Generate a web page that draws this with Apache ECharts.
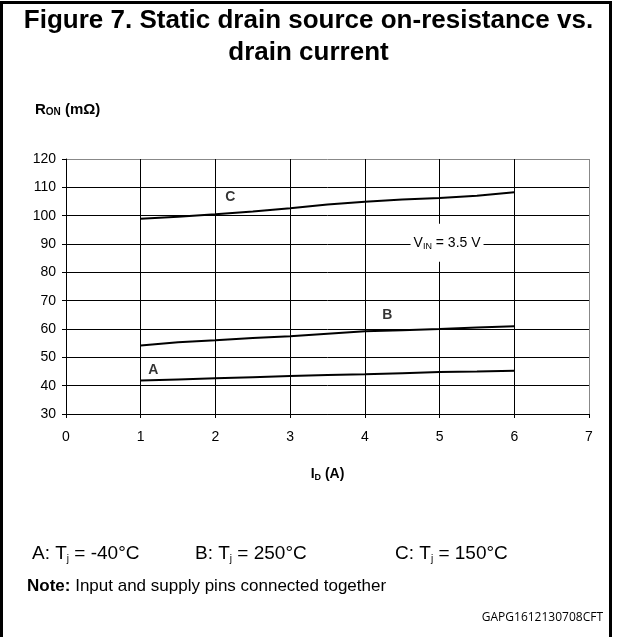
<!DOCTYPE html>
<html>
<head>
<meta charset="utf-8">
<script src="https://cdn.jsdelivr.net/npm/echarts@6/dist/echarts.min.js"></script>
<style>
  html, body { margin: 0; padding: 0; background: #fff; }
  #chart { width: 617px; height: 637px; }
</style>
</head>
<body>
<div id="chart"></div>
<script>
// drain current I_D (A) sample points
var currentA = [1, 1.5, 2, 2.5, 3, 3.5, 4, 4.5, 5, 5.5, 6];
// R_ON (mOhm) per curve
var curveA = [41.8, 42.2, 42.6, 43.0, 43.4, 43.8, 44.0, 44.4, 44.8, 45.0, 45.3];
var curveB = [54.2, 55.3, 56.0, 56.8, 57.4, 58.3, 59.2, 59.6, 60.0, 60.5, 61.0];
var curveC = [98.9, 99.6, 100.5, 101.5, 102.6, 103.9, 104.9, 105.7, 106.2, 107.0, 108.3];

// curve tags, placed in data coordinates
var curveTags = [[1.17, 45.5, 'A'], [4.3, 65, 'B'], [2.2, 106.5, 'C']];
var vinNote = [5.1, 90.4];

var xTicks = [0, 1, 2, 3, 4, 5, 6, 7];
var yTicks = [30, 40, 50, 60, 70, 80, 90, 100, 110, 120];

var FONT = '"Liberation Sans", Arial, sans-serif';

function pairs(xs, ys) {
    var out = [];
    for (var i = 0; i < xs.length; i++) {
        out.push([xs[i], ys[i]]);
    }
    return out;
}

function curve(name, ys) {
    return {
        name: name,
        type: 'line',
        data: pairs(currentA, ys),
        symbol: 'none',
        lineStyle: { color: '#000', width: 2 },
        z: 5
    };
}

function tempText(left, txt) {
    // "X: T_j = ..." with subscript j
    return {
        type: 'text',
        left: left,
        top: 544,
        style: {
            text: '{t|' + txt[0] + ': T}{s|j}{t| = ' + txt[1] + '}',
            rich: {
                t: { fontFamily: FONT, fontSize: 19, fill: '#000' },
                s: { fontFamily: FONT, fontSize: 10, fill: '#000', verticalAlign: 'bottom', padding: [12, 0, 0, 0] }
            }
        }
    };
}

// last split line is the plot frame, drawn gray
var ySplitColors = yTicks.map(function(v, i) { return i === yTicks.length - 1 ? '#888' : '#000'; });
var xSplitColors = xTicks.map(function(v, i) { return i === xTicks.length - 1 ? '#888' : '#000'; });

var myChart = echarts.init(document.getElementById('chart'));

var option = {
    animation: false,
    backgroundColor: '#fff',
    textStyle: { fontFamily: FONT },
    grid: { left: 66, right: 28, top: 159, bottom: 223 },
    xAxis: {
        type: 'value',
        min: 0,
        max: 7,
        interval: 1,
        name: '{b|I}{sub|D}{b| (A)}',
        nameLocation: 'middle',
        nameGap: 52,
        nameTextStyle: {
            rich: {
                b: { fontFamily: FONT, fontSize: 14, fontWeight: 'bold', color: '#000' },
                sub: { fontFamily: FONT, fontSize: 9, fontWeight: 'bold', color: '#000', verticalAlign: 'bottom', padding: [7, 0, 0, 0] }
            }
        },
        axisLine: { show: true, onZero: false, lineStyle: { color: '#000', width: 1 } },
        axisTick: { show: true, length: 4, lineStyle: { color: '#000' } },
        axisLabel: { margin: 16, fontSize: 14, color: '#000', fontFamily: FONT },
        splitLine: { show: true, lineStyle: { color: xSplitColors, width: 1 } }
    },
    yAxis: {
        type: 'value',
        min: 30,
        max: 120,
        interval: 10,
        axisLine: { show: true, onZero: false, lineStyle: { color: '#000', width: 1 } },
        axisTick: { show: true, length: 4, lineStyle: { color: '#000' } },
        axisLabel: { margin: 10, fontSize: 14, color: '#000', fontFamily: FONT },
        splitLine: { show: true, lineStyle: { color: ySplitColors, width: 1 } }
    },
    series: [
        curve('A', curveA),
        curve('B', curveB),
        curve('C', curveC),
        {
            name: 'tags',
            type: 'scatter',
            symbolSize: 0,
            data: curveTags,
            z: 6,
            label: {
                show: true,
                position: 'inside',
                formatter: function(p) { return p.data[2]; },
                fontFamily: FONT,
                fontSize: 14,
                fontWeight: 'bold',
                color: '#000'
            }
        }
    ],
    graphic: [
        {
            type: 'rect',
            shape: { x: 1.5, y: 2.5, width: 609, height: 640 },
            style: { fill: null, stroke: '#000', lineWidth: 3 },
            silent: true
        },
        {
            type: 'text',
            left: 'center',
            top: 5,
            style: {
                text: 'Figure 7. Static drain source on-resistance vs.\ndrain current',
                font: 'bold 26px ' + FONT,
                fill: '#000',
                textAlign: 'center',
                lineHeight: 32
            }
        },
        {
            type: 'text',
            left: 35,
            top: 102,
            style: {
                text: '{b|R}{s|ON}{b| (mΩ)}',
                rich: {
                    b: { fontFamily: FONT, fontSize: 15, fontWeight: 'bold', fill: '#000' },
                    s: { fontFamily: FONT, fontSize: 10, fontWeight: 'bold', fill: '#000', verticalAlign: 'bottom', padding: [6, 0, 0, 0] }
                }
            }
        },
        tempText(32, ['A', '-40°C']),
        tempText(195, ['B', '250°C']),
        tempText(395, ['C', '150°C']),
        {
            type: 'text',
            left: 27,
            top: 578,
            style: {
                text: '{b|Note:}{t| Input and supply pins connected together}',
                rich: {
                    b: { fontFamily: FONT, fontSize: 17, fontWeight: 'bold', fill: '#000' },
                    t: { fontFamily: FONT, fontSize: 17, fill: '#000' }
                }
            }
        },
        {
            type: 'text',
            right: 14,
            top: 612,
            style: {
                text: 'GAPG1612130708CFT',
                font: '12px "Open Sans", "DejaVu Sans", sans-serif',
                fill: '#000'
            }
        }
    ]
};

myChart.setOption(option);

// V_IN annotation: white box on the grid, centred on a data point
var vinPx = myChart.convertToPixel({ gridIndex: 0 }, vinNote);
myChart.setOption({
    graphic: [{
        id: 'vin',
        type: 'text',
        x: vinPx[0],
        y: vinPx[1],
        z: 100,
        style: {
            text: '{t|V}{s|IN}{t| = 3.5 V}',
            align: 'center',
            verticalAlign: 'middle',
            backgroundColor: '#fff',
            padding: [11, 3, 11, 3],
            rich: {
                t: { fontFamily: FONT, fontSize: 14, fill: '#000' },
                s: { fontFamily: FONT, fontSize: 9, fill: '#000', verticalAlign: 'bottom', padding: [7, 0, 0, 0] }
            }
        }
    }]
});
</script>
</body>
</html>
